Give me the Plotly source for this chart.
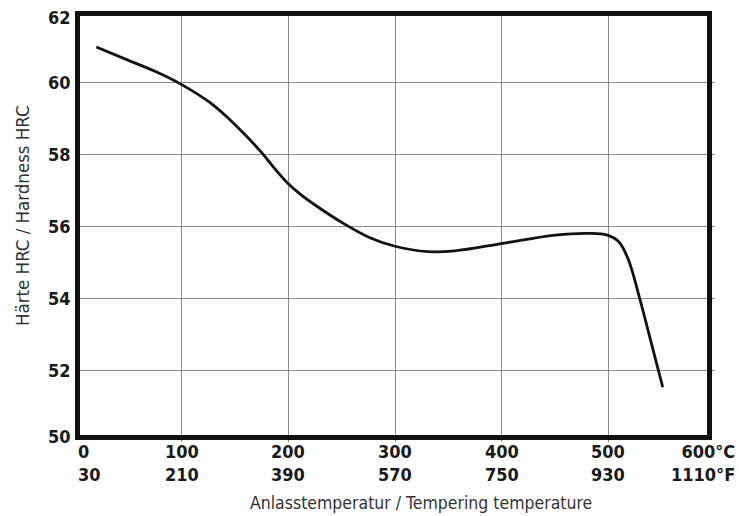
import plotly.graph_objects as go

# Data
temp_c = [20, 49, 75, 100, 127, 152, 174, 187, 200, 212, 224, 252, 277, 300, 331, 356, 401, 450, 482, 499, 510, 519, 529, 538, 551]
hardness = [61.0, 60.64, 60.32, 59.95, 59.44, 58.78, 58.09, 57.62, 57.19, 56.88, 56.62, 56.08, 55.68, 55.45, 55.30, 55.32, 55.53, 55.76, 55.81, 55.76, 55.57, 55.06, 54.04, 53.02, 51.53]

x_ticks_c = [0, 100, 200, 300, 400, 500, 600]
x_labels_c = ["0", "100", "200", "300", "400", "500", "600°C"]
x_labels_f = ["30", "210", "390", "570", "750", "930", "1110°F"]
y_ticks = [50, 52, 54, 56, 58, 60, 62]

FONT = "DejaVu Sans Condensed, Liberation Sans Narrow, sans-serif"

W, H = 739, 516
L, R, T, B = 75, 24, 11, 74
PW, PH = W - L - R, H - T - B


def px_x(p):
    return (p - L) / PW


def px_y(p):
    return (H - B - p) / PH


fig = go.Figure()
fig.add_trace(go.Scatter(
    x=temp_c, y=hardness, mode="lines",
    line=dict(color="#111111", width=2.8, shape="spline", smoothing=1.0),
    hoverinfo="skip", showlegend=False,
))

fig.update_layout(
    width=W, height=H,
    margin=dict(l=L, r=R, t=T, b=B),
    paper_bgcolor="white", plot_bgcolor="white",
    xaxis=dict(range=[0, 600], tickvals=x_ticks_c, showticklabels=False,
               showgrid=True, gridcolor="#8a8a8a", gridwidth=1, zeroline=False,
               showline=False, ticks="", automargin=False),
    yaxis=dict(range=[50, 62], tickvals=y_ticks, showticklabels=False,
               showgrid=True, gridcolor="#8a8a8a", gridwidth=1, zeroline=False,
               showline=False, ticks="", automargin=False),
)

# thick frame
fig.add_shape(type="rect", xref="paper", yref="paper",
              x0=px_x(77.5), x1=px_x(709.5), y0=px_y(437.5), y1=px_y(13.5),
              line=dict(color="#111111", width=5), fillcolor="rgba(0,0,0,0)")

# y tick labels
for i, v in enumerate(y_ticks):
    shift = 6 if i == 0 else (-6 if i == len(y_ticks) - 1 else 0)
    fig.add_annotation(x=0, xref="paper", y=v, yref="y", xanchor="right", yanchor="middle",
                       xshift=-2, yshift=shift, text=str(v), showarrow=False,
                       font=dict(family=FONT, size=18, color="#1a1a1a", weight="bold"))

# two-row x tick labels
for i, (v, c, f) in enumerate(zip(x_ticks_c, x_labels_c, x_labels_f)):
    if i == 0:
        anchor, shift, al = "left", 1, "left"
    elif i == len(x_ticks_c) - 1:
        anchor, shift, al = "right", 22, "right"
    else:
        anchor, shift, al = "center", 0, "center"
    fig.add_annotation(x=v, y=0, xref="x", yref="paper", yanchor="top",
                       xanchor=anchor, xshift=shift, yshift=3,
                       text=c + "<br>" + f, showarrow=False, align=al,
                       font=dict(family=FONT, size=18, color="#1a1a1a", weight="bold"))

fig.add_annotation(x=px_x(421), y=px_y(503), xref="paper", yref="paper",
                   text="Anlasstemperatur / Tempering temperature", showarrow=False,
                   xanchor="center", yanchor="middle",
                   font=dict(family=FONT, size=17.5, color="#333333"))

fig.add_annotation(x=px_x(22), y=px_y(216), xref="paper", yref="paper",
                   text="Härte HRC / Hardness HRC", showarrow=False, textangle=-90,
                   xanchor="center", yanchor="middle",
                   font=dict(family=FONT, size=18.5, color="#333333"))

fig.write_html("out.html", config={"displayModeBar": False},
               post_script="document.body.style.margin='0';document.body.style.padding='0';")
